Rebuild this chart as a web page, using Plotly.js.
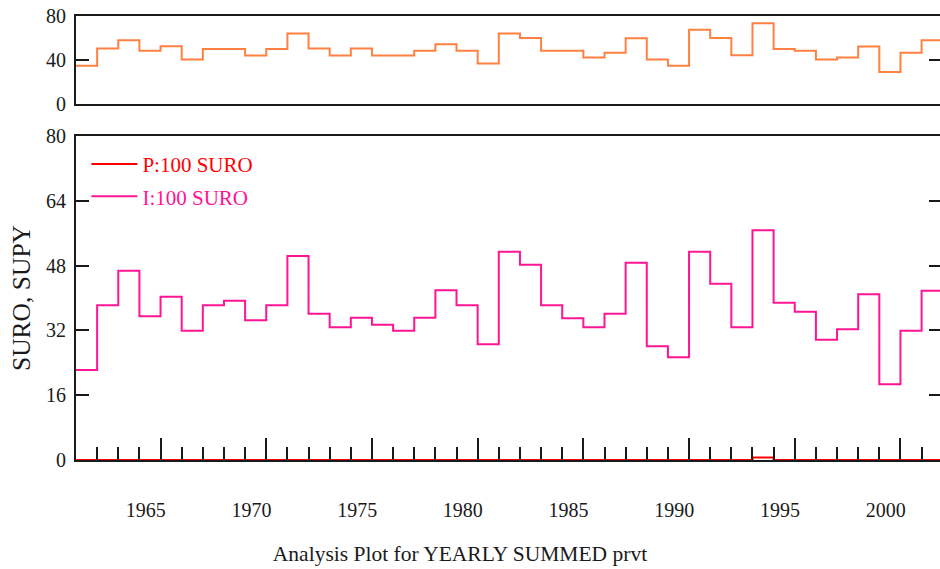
<!DOCTYPE html>
<html>
<head>
<meta charset="utf-8">
<script src="https://cdn.plot.ly/plotly-3.0.1.min.js"></script>
<style>
html,body{margin:0;padding:0;overflow:hidden;background:#fff;}
#chart{width:942px;height:569px;}
</style>
</head>
<body>
<div id="chart"></div>
<script>
// ---- data ----
const years = [1962,1963,1964,1965,1966,1967,1968,1969,1970,1971,
               1972,1973,1974,1975,1976,1977,1978,1979,1980,1981,
               1982,1983,1984,1985,1986,1987,1988,1989,1990,1991,
               1992,1993,1994,1995,1996,1997,1998,1999,2000,2001,2002];
// top panel (orange)
const supy = [34.7,50.4,58.0,48.3,52.5,40.5,50.1,50.1,44.1,50.1,
              64.0,50.4,44.1,50.4,44.1,44.1,48.3,54.3,48.3,36.9,
              64.0,60.1,48.3,48.3,42.3,46.5,59.8,40.5,34.7,67.6,
              60.1,44.4,73.4,50.1,48.3,40.5,42.3,52.3,29.0,46.5,58.0];
// I:100 SURO (pink)
const iSuro = [22.2,38.2,46.7,35.5,40.3,31.9,38.2,39.3,34.5,38.2,
               50.4,36.1,32.8,35.1,33.4,31.9,35.1,41.9,38.2,28.6,
               51.4,48.2,38.2,35.0,32.8,36.1,48.7,28.1,25.4,51.4,
               43.5,32.8,56.7,38.8,36.6,29.7,32.3,40.9,18.7,31.9,41.8];
// P:100 SURO (red)
const pSuro = [0,0,0,0,0,0,0,0,0,0,
               0,0,0,0,0,0,0,0,0,0,
               0,0,0,0,0,0,0,0,0,0,
               0,0,0.6,0,0,0,0,0,0,0,0];
const labelYears = [1965,1970,1975,1980,1985,1990,1995,2000];
const pName = 'P:100 SURO';
const iName = 'I:100 SURO';

// ---- helpers: step arrays (extend last value over its year) ----
function stepX(xs){ return xs.concat([xs[xs.length-1]+1]); }
function stepY(ys){ return ys.concat([ys[ys.length-1]]); }

const FONT = 'Liberation Serif, Times New Roman, serif';
const INK = '#1a1a1a';
const xRange = [1962, 2002.965];

const traces = [
  {x: stepX(years), y: stepY(supy), xaxis:'x2', yaxis:'y2', type:'scatter', mode:'lines',
   line:{shape:'hv', color:'#ff8040', width:2}, showlegend:false, hoverinfo:'skip'},
  {x: stepX(years), y: stepY(pSuro), xaxis:'x', yaxis:'y', type:'scatter', mode:'lines',
   name:'<span style="color:#ff0000">'+pName+'</span>', legendgroup:'p',
   line:{shape:'hv', color:'#ff0000', width:2}},
  {x: stepX(years), y: stepY(iSuro), xaxis:'x', yaxis:'y', type:'scatter', mode:'lines',
   name:'<span style="color:#ff1493">'+iName+'</span>', legendgroup:'i',
   line:{shape:'hv', color:'#ff1493', width:2}},
  // empty trace so the label-only overlay axis is drawn
  {x: [], y: [], xaxis:'x3', yaxis:'y', type:'scatter', mode:'lines', showlegend:false, hoverinfo:'skip'}
];

const axLine = {showline:true, linecolor:INK, linewidth:2, showgrid:false, zeroline:false};

const layout = {
  width:942, height:569,
  margin:{l:76, r:0, t:16, b:109},
  paper_bgcolor:'#fff', plot_bgcolor:'#fff',
  font:{family:FONT, color:INK, size:20},
  title:{text:'Analysis Plot for YEARLY SUMMED prvt', font:{family:FONT, size:21.5, color:INK},
         xref:'container', yref:'container', x:460/942, y:1-553/569, xanchor:'center', yanchor:'middle'},
  showlegend:true,
  legend:{x:0.012, y:0.712, xanchor:'left', yanchor:'top', bgcolor:'rgba(0,0,0,0)',
          font:{family:FONT, size:21}, tracegroupgap:2, traceorder:'grouped', itemwidth:46},
  xaxis: Object.assign({}, axLine, {
    domain:[0,1], anchor:'y', range:xRange, mirror:true,
    ticks:'inside', tick0:1966, dtick:5, ticklen:22, tickwidth:2, tickcolor:INK,
    minor:{tick0:1962, dtick:1, ticks:'inside', ticklen:13, tickwidth:2, tickcolor:INK, showgrid:false},
    showticklabels:false
  }),
  xaxis3: {overlaying:'x', anchor:'y', range:xRange, showline:false, showgrid:false, zeroline:false,
    ticks:'', tickmode:'array', tickvals:labelYears.map(v=>v+0.3), ticktext:labelYears.map(String),
    tickfont:{family:FONT, size:20, color:INK}, ticklabelstandoff:36},
  xaxis2: Object.assign({}, axLine, {
    domain:[0,1], anchor:'y2', range:xRange, mirror:true, ticks:'', showticklabels:false
  }),
  yaxis: Object.assign({}, axLine, {
    domain:[0, 324/444], anchor:'x', range:[0,80], mirror:'ticks',
    tickmode:'array', tickvals:[0,16,32,48,64,80], ticks:'inside', ticklen:13, tickwidth:2, tickcolor:INK,
    tickfont:{family:FONT, size:20, color:INK}, ticklabelstandoff:4,
    title:{text:'SURO, SUPY', font:{family:FONT, size:25.5, color:INK}, standoff:8}
  }),
  yaxis2: Object.assign({}, axLine, {
    domain:[356/444, 1], anchor:'x2', range:[0,80], mirror:'ticks',
    tickmode:'array', tickvals:[0,40,80], ticks:'inside', ticklen:13, tickwidth:2, tickcolor:INK,
    tickfont:{family:FONT, size:20, color:INK}, ticklabelstandoff:4
  })
};

Plotly.newPlot('chart', traces, layout, {displayModeBar:false, staticPlot:true});
</script>
</body>
</html>
